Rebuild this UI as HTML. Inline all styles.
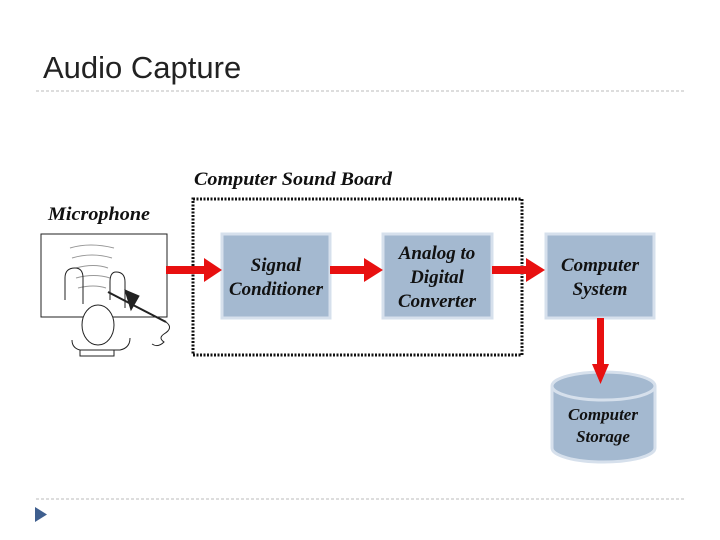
<!DOCTYPE html>
<html><head><style>body{margin:0;background:#fff}svg{display:block}</style></head><body>
<svg width="720" height="540" xmlns="http://www.w3.org/2000/svg" font-family="Liberation Serif, serif">
<text x="43" y="78" font-family="Liberation Sans, sans-serif" font-size="31" fill="#222">Audio Capture</text>
<line x1="36" y1="91" x2="686" y2="91" stroke="#bbb" stroke-dasharray="3,2"/>
<line x1="36" y1="499" x2="686" y2="499" stroke="#bbb" stroke-dasharray="3,2"/>
<polygon points="35,507 47,514.5 35,522" fill="#3f5f8f"/>
<g font-style="italic" font-weight="bold" fill="#111" font-size="19">
<text x="194" y="185" textLength="198" lengthAdjust="spacingAndGlyphs">Computer Sound Board</text>
<text x="48" y="220" textLength="102" lengthAdjust="spacingAndGlyphs">Microphone</text>
</g>
<rect x="193" y="199" width="329" height="156" fill="none" stroke="#111" stroke-width="3" stroke-dasharray="2,1.5"/>
<g fill="none" stroke="#222" stroke-width="1">
<rect x="41" y="234" width="126" height="83"/>
<path d="M70 248q20-6 44 0M72 258q20-6 40 0M76 268q18-5 32 0M76 278q18-5 34 0M78 288q16-4 28 0" stroke="#999"/>
<path d="M65 300v-22q0-10 10-10q8 0 8 10v26M110 300v-18q0-10 6-10q9 0 9 10v26"/>
<ellipse cx="98" cy="325" rx="16" ry="20" fill="#fff"/>
<path d="M72 340q0 8 8 10h40q10-2 10-12M80 350v6h34v-6"/>
<path d="M108 292l58 30" stroke-width="2"/>
<path d="M125 290l14 6-8 14z" fill="#222"/>
<path d="M166 322q8 6-2 12q-6 4 0 8q-6 6-12 2"/>
</g>
<g font-style="italic" font-weight="bold" fill="#111" font-size="19" text-anchor="middle">
<rect x="222" y="234" width="108" height="84" fill="#a4b9d0" stroke="#d6e0ec" stroke-width="3"/>
<text x="276" y="271">Signal</text><text x="276" y="295">Conditioner</text>
<rect x="383" y="234" width="109" height="84" fill="#a4b9d0" stroke="#d6e0ec" stroke-width="3"/>
<text x="437" y="259">Analog to</text><text x="437" y="283">Digital</text><text x="437" y="307">Converter</text>
<rect x="546" y="234" width="108" height="84" fill="#a4b9d0" stroke="#d6e0ec" stroke-width="3"/>
<text x="600" y="271">Computer</text><text x="600" y="295">System</text>
<path d="M552 386v62a51.5 14 0 0 0 103 0v-62" fill="#a4b9d0" stroke="#d6e0ec" stroke-width="3"/>
<ellipse cx="603.5" cy="386" rx="51.5" ry="14" fill="#a4b9d0" stroke="#d6e0ec" stroke-width="3"/>
<text x="603" y="420" font-size="17">Computer</text><text x="603" y="442" font-size="17">Storage</text>
</g>
<g fill="#e81010">
<rect x="166" y="266" width="40" height="8"/><polygon points="204,258 222,270 204,282"/>
<rect x="330" y="266" width="36" height="8"/><polygon points="364,258 383,270 364,282"/>
<rect x="492" y="266" width="36" height="8"/><polygon points="526,258 545,270 526,282"/>
<rect x="597" y="318" width="7" height="48"/><polygon points="592,364 609,364 600.5,384"/>
</g>
</svg>
</body></html>
